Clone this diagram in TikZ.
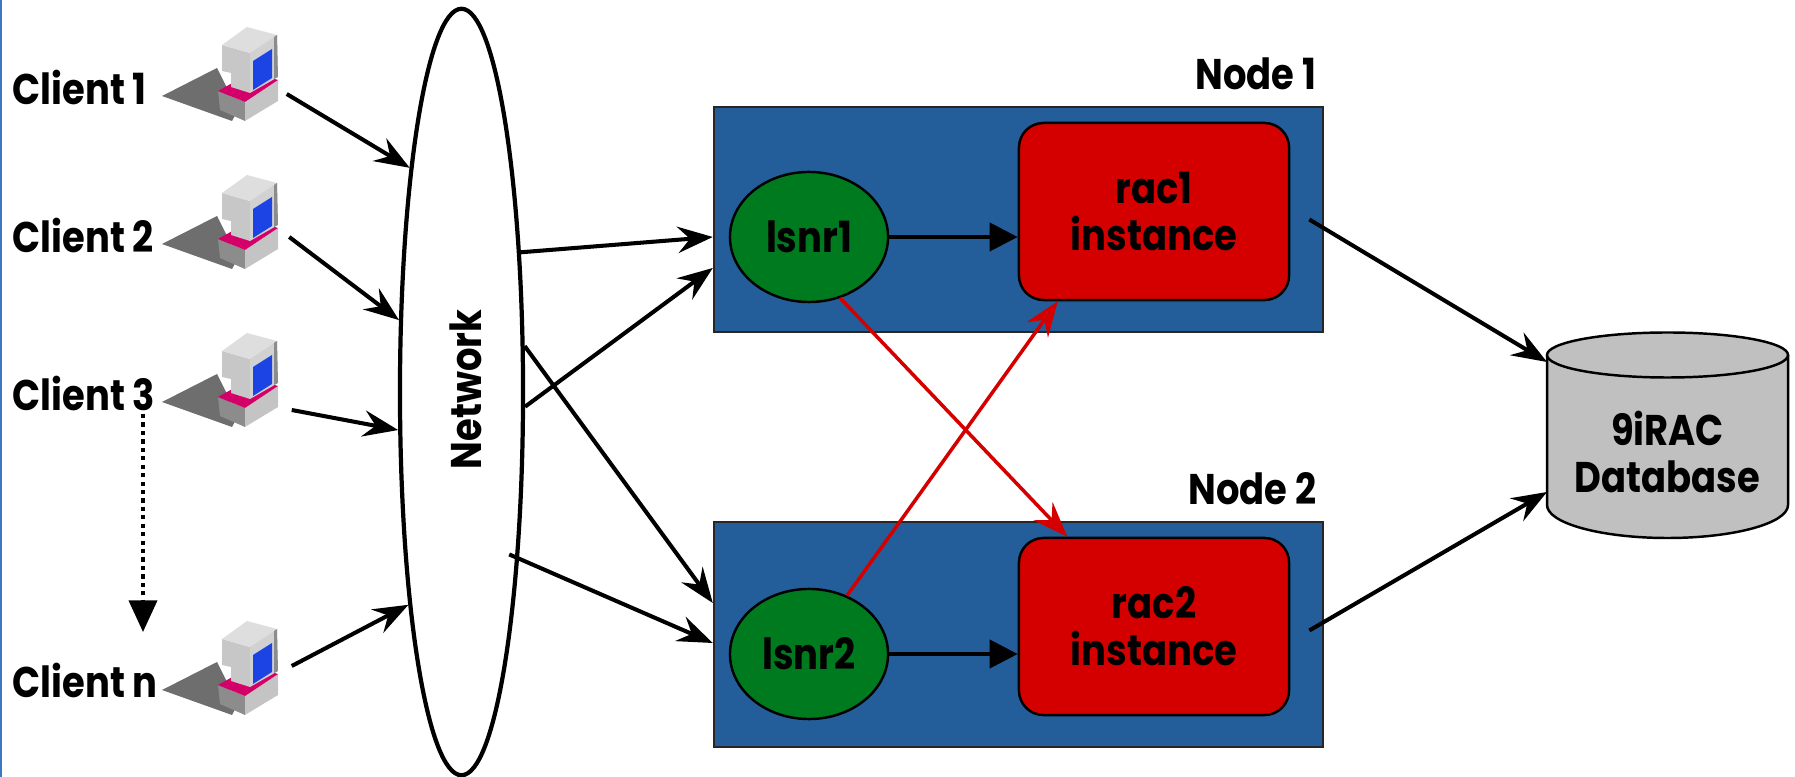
\documentclass[tikz,border=0pt]{standalone}
\usepackage{fontspec}
\setmainfont{Poppins}[FakeStretch=0.86]
\usetikzlibrary{arrows.meta,positioning,shapes.geometric,calc}
\definecolor{hostblue}{HTML}{235E9B}
\definecolor{instred}{HTML}{D40000}
\definecolor{lsnrgreen}{HTML}{007A1E}
\definecolor{dbgray}{HTML}{C0C0C0}
\definecolor{frameblue}{HTML}{3A78C0}
\definecolor{pcmagenta}{HTML}{D4006A}
\definecolor{pcscreen}{HTML}{1C44E4}
\definecolor{pcmat}{HTML}{6E6E6E}
\tikzset{
  txt/.style={font=\bfseries\fontsize{12.2}{13.4}\selectfont},
  clientname/.style={txt, anchor=base west, inner sep=0pt},
  hostname/.style={txt, anchor=base east, inner sep=0pt},
  hostbox/.style={draw=black!85, line width=0.6pt, fill=hostblue, minimum width=6.09cm, minimum height=2.25cm},
  instance/.style={txt, draw=black, line width=0.7pt, fill=instred, rounded corners=7pt, align=center, minimum width=2.70cm, minimum height=1.77cm},
  listener/.style={txt, ellipse, draw=black, line width=0.7pt, fill=lsnrgreen, minimum width=1.58cm, minimum height=1.30cm, inner sep=0pt},
  netcloud/.style={ellipse, draw=black, line width=1.2pt, minimum width=1.23cm, minimum height=7.66cm, inner sep=0pt},
  pcbox/.style={minimum width=1.2cm, minimum height=0.94cm, inner sep=0pt},
  arrow/.style={-{Stealth[length=10pt, width=7.5pt, inset=3.5pt]}, line width=1.15pt},
  redarrow/.style={arrow, draw=instred, line width=1pt},
  blockarrow/.style={-{Triangle[length=8pt, width=8pt]}, line width=1.15pt},
  morearrow/.style={-{Triangle[length=9pt, width=8pt]}, line width=1pt, dash pattern=on 1.2pt off 1.2pt},
  computer/.pic={
    \fill[pcmat] (12,81) -- (67,53) -- (88,95) -- (82,106) -- cycle;
    \fill[black!45] (68,76) -- (95,87) -- (95,106) -- (70,95) -- cycle;
    \fill[black!23] (95,87) -- (128,65) -- (128,86) -- (95,106) -- cycle;
    \fill[pcmagenta] (68,76) -- (102,57) -- (128,65) -- (95,87) -- cycle;
    \fill[black!22] (72,30) -- (100,38) -- (100,78) -- (81,72) -- (81,58) -- (72,56) -- cycle;
    \fill[black!13] (72,30) -- (97,12) -- (127,20) -- (100,38) -- cycle;
    \fill[black!18] (100,38) -- (127,20) -- (128,62) -- (100,78) -- cycle;
    \fill[black!45] (124,22) -- (127,20) -- (128,62) -- (124,64) -- cycle;
    \fill[pcscreen] (103,46) -- (122,34) -- (122,63) -- (103,75) -- cycle;
    \node[pcbox] (-box) at (70,60) {};
  }
}

\begin{document}
\begin{tikzpicture}[x=0.01cm, y=-0.01cm]
  \useasboundingbox (0,0) rectangle (1795,777);
  \fill[frameblue] (0,0) rectangle (2,777);

  % clients
  \pic (pc1) at (150,15) {computer};
  \pic (pc2) at (150,163) {computer};
  \pic (pc3) at (150,321) {computer};
  \pic (pcn) at (150,609) {computer};
  \node[clientname] (cl1) at (12,105) {Client 1};
  \node[clientname] (cl2) at (12,253) {Client 2};
  \node[clientname] (cl3) at (12,411) {Client 3};
  \node[clientname] (cln) at (12,697) {Client n};
  \coordinate (more-top) at (143,414);
  \coordinate (more-bot) at (143,632);

  % network
  \node[netcloud] (network) at (461.5,392) {};
  \node[txt, rotate=90, anchor=base, inner sep=0pt] (netname) at (481,389.5) {Network};

  % cluster nodes
  \node[hostbox] (node1) at (1018.5,219.5) {};
  \node[hostbox] (node2) at (1018.5,634.5) {};
  \node[hostname] (node1name) at (1317,90) {Node 1};
  \node[hostname] (node2name) at (1317,505) {Node 2};
  \node[listener] (lsnr1) at (809,237) {lsnr1};
  \node[listener] (lsnr2) at (809,654) {lsnr2};
  \node[instance] (rac1) at (1154,211.5) {rac1\\instance};
  \node[instance] (rac2) at (1154,626.5) {rac2\\instance};

  % database
  \fill[dbgray] (1547,355) -- (1547,505) arc[start angle=180, end angle=0, x radius=120.5, y radius=33] -- (1788,355) -- cycle;
  \draw[line width=0.7pt] (1547,355) -- (1547,505) arc[start angle=180, end angle=0, x radius=120.5, y radius=33] -- (1788,355);
  \draw[line width=0.7pt, fill=dbgray] (1667.5,355) ellipse [x radius=120.5, y radius=22.5];
  \node[txt, align=center] (db) at (1667.5,452) {9iRAC\\Database};
  \coordinate (db-in1) at (1547,362);
  \coordinate (db-in2) at (1547,492);

  \draw[arrow] ([shift={(6,19)}]pc1-box.east) -- (network.103.7);
  \draw[arrow] ([shift={(8.5,14)}]pc2-box.east) -- (network.131.2);
  \draw[arrow] ([shift={(11,29)}]pc3-box.east) -- (network.211.2);
  \draw[arrow] ([shift={(11,-3)}]pcn-box.east) -- (network.256.2);
  \draw[morearrow] (more-top) -- (more-bot);

  \draw[arrow] (network.67.8) -- (lsnr1 -| node1.west);
  \draw[arrow] (network.-13.2) -- ([shift={(0,48.5)}]node1.west);
  \draw[arrow] (network.36.4) -- ([shift={(0,-31.5)}]node2.west);
  \draw[arrow, shorten <=-3pt] (network.-71.3) -- ([shift={(0,8.5)}]node2.west);

  \draw[blockarrow] (lsnr1.east) -- (lsnr1.east -| rac1.west);
  \draw[blockarrow] (lsnr2.east) -- (lsnr2.east -| rac2.west);
  \draw[redarrow] (lsnr1.297) -- (rac2.134.6);
  \draw[redarrow] (lsnr2.57.3) -- (rac1.223.2);

  \draw[arrow] ([shift={(19,8)}]rac1.east) -- (db-in1);
  \draw[arrow] ([shift={(19,4)}]rac2.east) -- (db-in2);
\end{tikzpicture}
\end{document}
